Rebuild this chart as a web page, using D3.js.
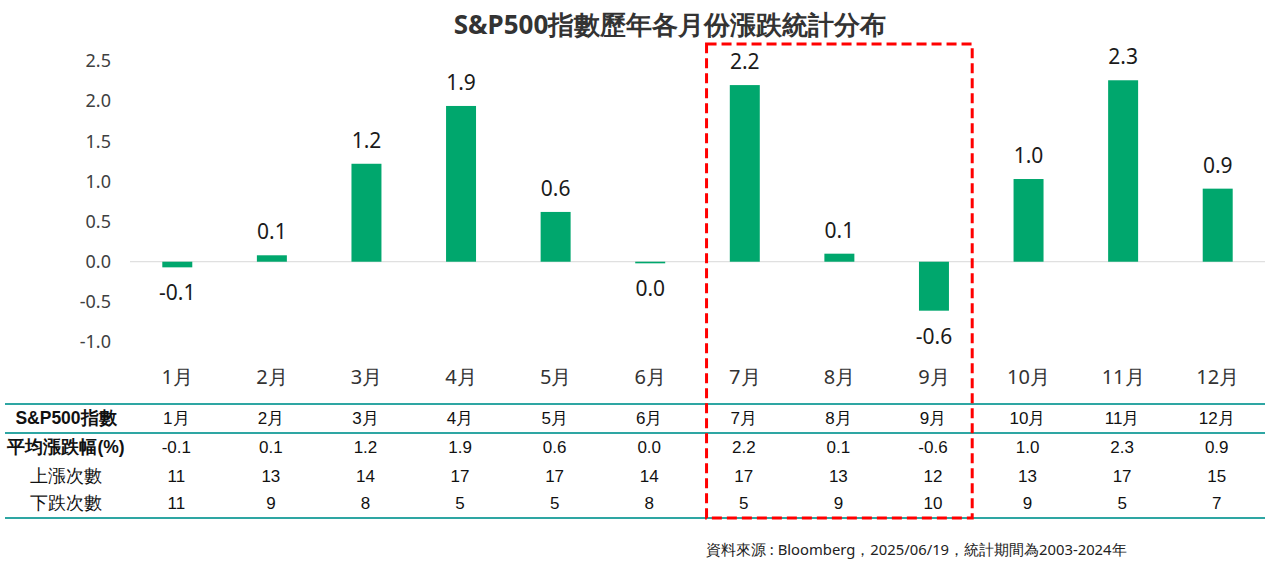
<!DOCTYPE html>
<html><head><meta charset="utf-8">
<script src="https://cdn.jsdelivr.net/npm/d3@7"></script>
<style>
html,body{margin:0;padding:0;background:#fff;}
svg{display:block;}
</style>
</head><body>
<svg id="chart" width="1270" height="561"></svg>
<script>
const months = ["1月","2月","3月","4月","5月","6月","7月","8月","9月","10月","11月","12月"];
const avgValues = [-0.07, 0.08, 1.22, 1.94, 0.62, -0.02, 2.2, 0.1, -0.61, 1.03, 2.26, 0.91];
const avgLabels = ["-0.1","0.1","1.2","1.9","0.6","0.0","2.2","0.1","-0.6","1.0","2.3","0.9"];
const upCounts = [11,13,14,17,17,14,17,13,12,13,17,15];
const downCounts = [11,9,8,5,5,8,5,9,10,9,5,7];
const yTicks = [-1.0,-0.5,0.0,0.5,1.0,1.5,2.0,2.5];
const rowLabels = ["S&P500指數","平均漲跌幅(%)","上漲次數","下跌次數"];
const highlight = ["7月","9月"];
const title = "S&P500指數歷年各月份漲跌統計分布";
const source = "資料來源 : Bloomberg，2025/06/19，統計期間為2003-2024年";

const svg = d3.select("#chart");
const chartFont = "'Noto Sans','Open Sans',sans-serif";
const tableFont = "'Liberation Sans',Arial,sans-serif";

const x = d3.scaleBand().domain(months).range([130,1265]).paddingInner(0.683).paddingOuter(0.3415);
const y = d3.scaleLinear().domain([-1,2.5]).range([342,61]);

// title
svg.append("text").attr("x",670).attr("y",34).attr("text-anchor","middle")
  .attr("font-family",chartFont).attr("font-weight","bold").attr("font-size",26)
  .attr("fill","#333").text(title);

// y axis labels
svg.append("g").selectAll("text").data(yTicks).join("text")
  .attr("x",111).attr("y",d=>y(d)).attr("dy","0.35em").attr("text-anchor","end")
  .attr("font-family",chartFont).attr("font-size",18).attr("fill","#404040")
  .text(d=>d3.format(".1f")(d).replace("−","-"));

// zero line
svg.append("line").attr("x1",130).attr("x2",1265).attr("y1",y(0)).attr("y2",y(0))
  .attr("stroke","#d9d9d9").attr("stroke-width",1);

// bars
svg.append("g").selectAll("rect").data(avgValues).join("rect")
  .attr("x",(d,i)=>x(months[i])).attr("width",x.bandwidth())
  .attr("y",d=>y(Math.max(0,d))).attr("height",d=>Math.abs(y(d)-y(0)))
  .attr("fill","#00a76d");

// value labels
svg.append("g").selectAll("text").data(avgValues).join("text")
  .attr("x",(d,i)=>x(months[i])+x.bandwidth()/2)
  .attr("y",d=> d>=0 ? y(d)-16 : y(d)+33)
  .attr("text-anchor","middle").attr("font-family",chartFont).attr("font-size",21)
  .attr("font-weight","normal").attr("fill","#1a1a1a")
  .text((d,i)=>avgLabels[i]);

// month labels
svg.append("g").selectAll("text").data(months).join("text")
  .attr("x",d=>x(d)+x.bandwidth()/2).attr("y",384).attr("text-anchor","middle")
  .attr("font-family",chartFont).attr("font-size",20).attr("fill","#333").text(d=>d);

// table
const teal = "#2ea6a3";
[404,433,518].forEach(yy=>{
  svg.append("line").attr("x1",5).attr("x2",1265).attr("y1",yy).attr("y2",yy)
    .attr("stroke",teal).attr("stroke-width",2);
});
const rowY = [418,447,476,503];
const rows = [months, avgLabels, upCounts, downCounts];
rowLabels.forEach((lab,r)=>{
  svg.append("text").attr("x",66).attr("y",rowY[r]).attr("dy","0.35em").attr("text-anchor","middle")
    .attr("font-family",r<2?tableFont:chartFont).attr("font-weight",r<2?"bold":"normal")
    .attr("font-size",r<2?17.5:18).attr("fill","#111").text(lab);
  svg.append("g").selectAll("text").data(rows[r]).join("text")
    .attr("x",(d,i)=>x(months[i])+x.bandwidth()/2 - 1).attr("y",rowY[r]).attr("dy","0.35em")
    .attr("text-anchor","middle").attr("font-family",tableFont).attr("font-size",17)
    .attr("fill","#111").text(d=>d);
});

// highlight box
const gap = (x.step()-x.bandwidth())*0.36;
const x0 = x(highlight[0]) - gap;
const x1 = x(highlight[1]) + x.bandwidth() + gap;
svg.append("rect").attr("x",x0).attr("y",44).attr("width",x1-x0).attr("height",518-44)
  .attr("fill","none").attr("stroke","#ff0000").attr("stroke-width",3)
  .attr("stroke-dasharray","10,5");

// source
svg.append("text").attr("x",706).attr("y",555).attr("font-family",chartFont)
  .attr("font-size",14.8).attr("fill","#222").text(source);
</script>
</body></html>
